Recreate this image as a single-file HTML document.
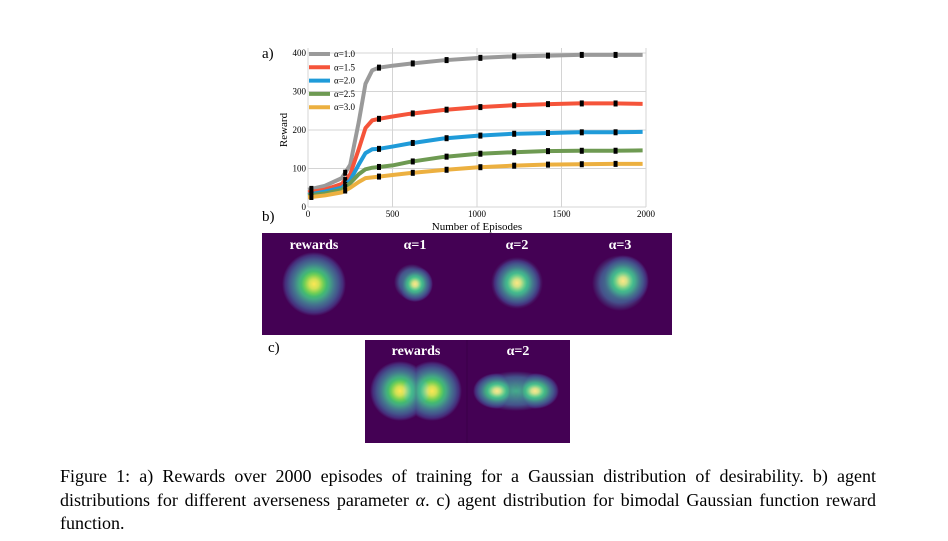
<!DOCTYPE html>
<html><head><meta charset="utf-8">
<style>
body{margin:0;background:#fff;width:948px;height:541px;overflow:hidden;font-family:"Liberation Serif",serif}
svg{position:absolute;left:0;top:0}
.cap{position:absolute;left:60px;top:465px;width:816px;font-size:18px;line-height:23.5px;color:#000}
.cap div{white-space:nowrap}
.cap .j{text-align:justify;text-align-last:justify}
.hm circle,.hm ellipse{mix-blend-mode:lighten}
.hm{isolation:isolate}
</style></head><body>
<svg width="948" height="541">
<defs>
<radialGradient id="blob">
<stop offset="0" stop-color="#fde725"/>
<stop offset="0.15" stop-color="#d0e11c"/>
<stop offset="0.3" stop-color="#6ece58"/>
<stop offset="0.47" stop-color="#25ab82"/>
<stop offset="0.63" stop-color="#2a788e"/>
<stop offset="0.78" stop-color="#3b528b"/>
<stop offset="0.9" stop-color="#472d7b"/>
<stop offset="1" stop-color="#440154"/>
</radialGradient>
<radialGradient id="blob2">
<stop offset="0" stop-color="#25ab82"/>
<stop offset="0.4" stop-color="#2a788e"/>
<stop offset="0.7" stop-color="#3b528b"/>
<stop offset="1" stop-color="#440154"/>
</radialGradient>
</defs>
<g id="chart"></g>
<g class="hm">
<rect x="262" y="233" width="410" height="102" fill="#440154"/>
<circle cx="314" cy="284" r="32" fill="url(#blob)"/>
<circle cx="412" cy="282" r="18" fill="url(#blob2)"/>
<circle cx="415" cy="284" r="18" fill="url(#blob)"/>
<circle cx="517" cy="283" r="26" fill="url(#blob2)"/>
<circle cx="517" cy="283" r="25" fill="url(#blob)"/>
<circle cx="620" cy="283" r="28" fill="url(#blob2)"/>
<circle cx="623" cy="281" r="26" fill="url(#blob)"/>
</g>
<g fill="#fff" font-size="14" font-weight="bold" text-anchor="middle">
<text x="314" y="249">rewards</text>
<text x="415" y="249">α=1</text>
<text x="517" y="249">α=2</text>
<text x="620" y="249">α=3</text>
</g>
<g class="hm">
<rect x="365" y="340" width="205" height="103" fill="#440154"/>
<circle cx="400" cy="391" r="30" fill="url(#blob)"/>
<circle cx="432" cy="391" r="30" fill="url(#blob)"/>
<ellipse cx="516" cy="391" rx="40" ry="20" fill="url(#blob2)"/>
<ellipse cx="497" cy="391" rx="24" ry="18" fill="url(#blob)"/>
<ellipse cx="535" cy="391" rx="24" ry="18" fill="url(#blob)"/>
</g>
<line x1="467" y1="340" x2="467" y2="443" stroke="#3a0048"/>
<g fill="#fff" font-size="14" font-weight="bold" text-anchor="middle">
<text x="416" y="355">rewards</text>
<text x="518" y="355">α=2</text>
</g>
<g font-size="15" fill="#000">
<text x="262" y="58">a)</text>
<text x="262" y="221">b)</text>
<text x="268" y="352">c)</text>
</g>
</svg>
<div class="cap">
<div class="j">Figure 1: a) Rewards over 2000 episodes of training for a Gaussian distribution of desirability. b) agent</div>
<div class="j">distributions for different averseness parameter <i>α</i>. c) agent distribution for bimodal Gaussian function reward</div>
<div>function.</div>
</div>
<script>
const xTicks=[0,500,1000,1500,2000];
const yTicks=[0,100,200,300,400];
const seriesNames=["α=1.0","α=1.5","α=2.0","α=2.5","α=3.0"];
const seriesColors=["#9a9a9a","#f5543a","#1f9bd9","#6e9a52","#ecb040"];
const episodes=[0,100,200,250,300,340,380,420,500,600,800,1000,1200,1400,1600,1800,1980];
const r10=[45,55,75,110,220,320,355,362,367,372,381,387,391,393,395,395,395];
const r15=[38,45,60,85,150,205,225,229,235,242,252,259,264,267,269,269,268];
const r20=[32,40,50,70,110,140,150,151,157,165,178,185,190,192,194,194,195];
const r25=[30,35,45,62,85,98,102,104,108,117,130,138,142,145,146,146,147];
const r30=[25,30,38,50,65,75,77,79,83,88,96,103,107,110,111,112,112];
const markerEpisodes=[20,220,420,620,820,1020,1220,1420,1620,1820];
const allSeries=[r10,r15,r20,r25,r30];
const X0=308,X1=646,Y0=207,Y1=53;
const sx=v=>X0+v/2000*(X1-X0);
const sy=v=>Y0-v/400*(Y0-Y1);
const NS="http://www.w3.org/2000/svg";
const g=document.getElementById('chart');
function mk(t,a){const e=document.createElementNS(NS,t);for(const k in a)e.setAttribute(k,a[k]);g.appendChild(e);return e;}
function interp(ep,arr,x){for(let i=1;i<ep.length;i++){if(x<=ep[i]){const t=(x-ep[i-1])/(ep[i]-ep[i-1]);return arr[i-1]+t*(arr[i]-arr[i-1]);}}return arr[arr.length-1];}
const bg=mk('rect',{x:X0,y:Y1-5,width:X1-X0,height:Y0-Y1+5,fill:'#fff'});


xTicks.forEach(t=>{
 const l=mk('line',{x1:sx(t),x2:sx(t),y1:Y1-5,y2:Y0,stroke:'#d4d4d4','stroke-width':1});
 
 
 const tx=mk('text',{x:sx(t),y:Y0+10,'font-size':9,'text-anchor':'middle','font-family':'Liberation Serif'});
 tx.textContent=t;
 
 
});
yTicks.forEach(t=>{
 const l=mk('line',{x1:X0,x2:X1,y1:sy(t),y2:sy(t),stroke:'#d4d4d4','stroke-width':1});
 
 
 const tx=mk('text',{x:X0-2,y:sy(t)+3,'font-size':9,'text-anchor':'end','font-family':'Liberation Serif'});
 tx.textContent=t;
 
 
});
allSeries.forEach((arr,i)=>{
 const pts=episodes.map((e,j)=>sx(e)+','+sy(arr[j])).join(' ');
 const p=mk('polyline',{points:pts,fill:'none',stroke:seriesColors[i],'stroke-width':4,'stroke-linejoin':'round'});
 
 
 markerEpisodes.forEach(m=>{
  const v=interp(episodes,arr,m);
  const r=mk('rect',{x:sx(m)-2,y:sy(v)-3,width:4,height:6,fill:'#000'});
  
  
 });
 const ly=54+i*13.3;
 const ll=mk('line',{x1:309,x2:330,y1:ly,y2:ly,stroke:seriesColors[i],'stroke-width':4});
 
 
 const lt=mk('text',{x:334,y:ly+3,'font-size':9,'font-family':'Liberation Serif'});
 lt.textContent=seriesNames[i];
 
 
});
const xt=mk('text',{x:477,y:230,'font-size':11,'text-anchor':'middle','font-family':'Liberation Serif'});
xt.textContent='Number of Episodes';


const yt=mk('text',{x:0,y:0,'font-size':11,'text-anchor':'middle','font-family':'Liberation Serif',transform:'translate(287,130) rotate(-90)'});
yt.textContent='Reward';


</script>
</body></html>
